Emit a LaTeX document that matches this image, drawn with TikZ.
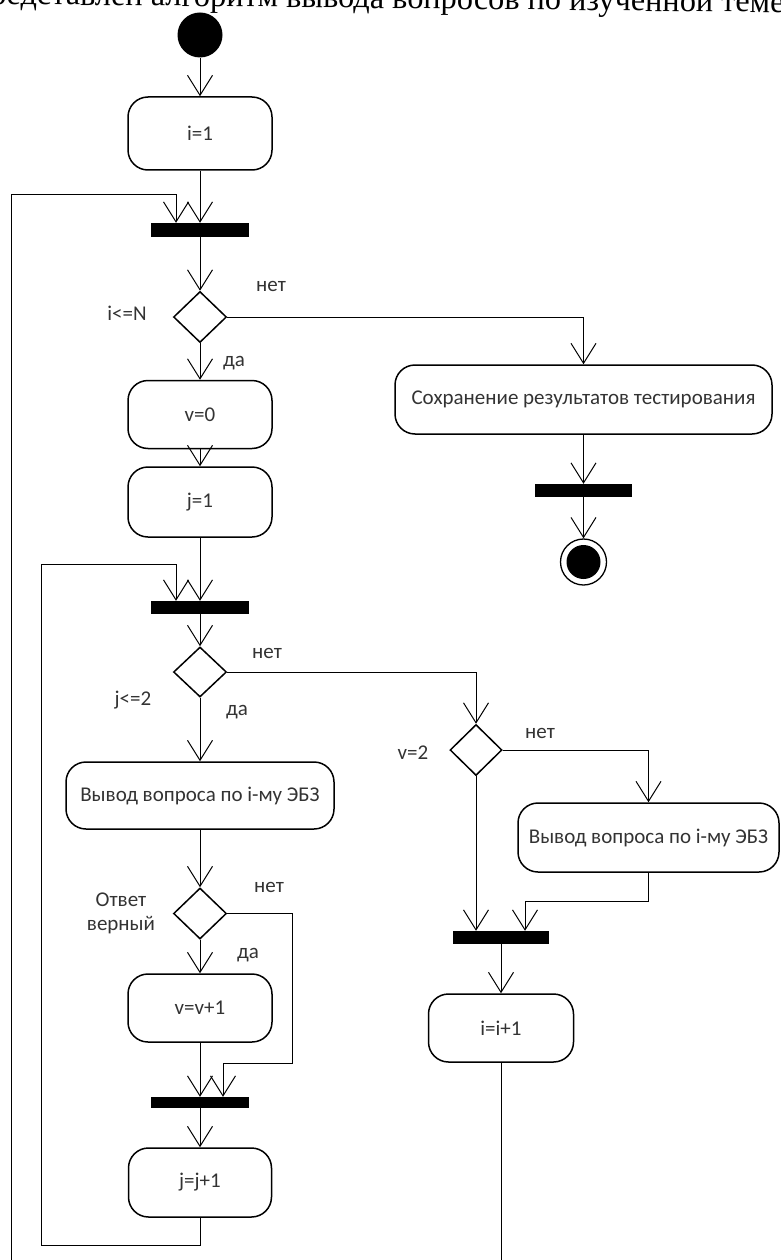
\documentclass[tikz,border=0pt]{standalone}
\usepackage{fontspec}
\setmainfont{Carlito}
\newfontfamily\pageserif{Liberation Serif}
\usetikzlibrary{arrows.meta,shapes.geometric}

\begin{document}
\begin{tikzpicture}[x=1pt, y=-1pt,
    every node/.style={font=\fontsize{21}{24}\selectfont, text=black!80},
    act/.style={draw=black, line width=1.5pt, rounded corners=20pt, minimum width=144pt, minimum height=68pt, inner sep=0pt},
    bar/.style={fill=black, inner sep=0pt, minimum width=98pt, minimum height=13pt},
    choice/.style={draw=black, diamond, line width=1.5pt, minimum width=53pt, minimum height=51pt, inner sep=0pt},
    flow/.style={line width=1pt, -{Straight Barb[length=20pt, width=25pt]}},
    edge/.style={line width=1pt}]
    \useasboundingbox (0, 0) rectangle (781, 1260);
    \clip (0, 0) rectangle (781, 1260);

    % text line of the page above the figure
    \node[font=\pageserif\fontsize{32.3}{33}\selectfont, text=black, anchor=base east, rotate=-0.6] (pagetext) at (788, 12.5) {представлен алгоритм вывода вопросов по изученной теме};

    % main column
    \node[circle, fill=black, minimum size=45pt, inner sep=0pt] (start) at (200, 35) {};
    \node[act, minimum height=73pt] (initI) at (200, 133.5) {i=1};
    \node[bar, minimum height=14pt] (joinI) at (200, 230) {};
    \node[choice] (testI) at (200, 317) {};
    \node[act] (initV) at (200, 414.5) {v=0};
    \node[act, minimum height=70pt] (initJ) at (200, 502) {j=1};
    \node[bar] (joinJ) at (200, 607.5) {};
    \node[choice, minimum height=50pt] (testJ) at (200, 672) {};
    \node[act, minimum width=268pt, minimum height=67pt] (askQ) at (200, 795.5) {Вывод вопроса по i-му ЭБЗ};
    \node[choice] (testA) at (200, 913.5) {};
    \node[act] (incV) at (200, 1008) {v=v+1};
    \node[bar, minimum height=11pt] (joinA) at (200, 1102.5) {};
    \node[act, minimum width=143pt, minimum height=69pt] (incJ) at (200, 1182.5) {j=j+1};

    % right side
    \node[act, minimum width=377pt, minimum height=69pt] (save) at (583.5, 399.5) {Сохранение результатов тестирования};
    \node[bar, minimum width=97pt] (joinS) at (583.5, 490.5) {};
    \node[circle, draw=black, line width=1.3pt, minimum size=46pt, inner sep=0pt] (stop) at (583.5, 562) {};
    \node[circle, fill=black, minimum size=34pt, inner sep=0pt] (stopdot) at (stop) {};
    \node[choice, minimum width=52pt] (testV) at (476, 750) {};
    \node[act, minimum width=261pt, minimum height=69pt] (askR) at (648.5, 837.5) {Вывод вопроса по i-му ЭБЗ};
    \node[bar, minimum width=96pt] (joinV) at (501, 937.5) {};
    \node[act, minimum width=145pt] (incI) at (501, 1028) {i=i+1};

    % guard labels
    \node (noI) at (271, 286) {нет};
    \node (condI) at (127, 313) {i<=N};
    \node (yesI) at (234, 363) {да};
    \node (noJ) at (267, 653) {нет};
    \node (condJ) at (133, 700) {j<=2};
    \node (yesJ) at (237, 712) {да};
    \node (condV) at (413, 753) {v=2};
    \node (noV) at (540, 733) {нет};
    \node (noA) at (269, 887) {нет};
    \node[align=center] (condA) at (121, 913) {Ответ\\верный};
    \node (yesA) at (248, 955) {да};

    \coordinate (loopI) at (11, 1280);

    \draw[flow] (start) -- (initI);
    \draw[flow] (initI) -- (joinI);
    \draw[flow] (joinI) -- (testI);
    \draw[flow] (testI) -- (initV);
    \draw[flow] (initV) -- (initJ);
    \draw[flow] (initJ) -- (joinJ);
    \draw[flow] (joinJ) -- (testJ);
    \draw[flow] (testJ) -- (askQ);
    \draw[flow] (askQ) -- (testA);
    \draw[flow] (testA) -- (incV);
    \draw[flow] (incV) -- (joinA);
    \draw[flow] (joinA) -- (incJ);
    \draw[flow] (incJ.south) -- ++(0, 28) -| (41, 564) -| ([xshift=-24pt]joinJ.north);
    \draw[flow] (testA.east) -| (292, 1063) -| ([xshift=23pt]joinA.north);

    \draw[flow] (testI.east) -| (save.north);
    \draw[flow] (save) -- (joinS);
    \draw[flow] (joinS) -- (stop);

    \draw[flow] (testJ.east) -| (testV.north);
    \draw[flow] (testV.east) -| (askR.north);
    \draw[flow] (testV.south) -- (testV.south |- joinV.north);
    \draw[flow] (askR.south) -- ++(0, 29) -| ([xshift=24pt]joinV.north);
    \draw[flow] (joinV) -- (incI);
    \draw[flow] (incI.south) |- (loopI) -- (11, 195) -| ([xshift=-24pt]joinI.north);
  \end{tikzpicture}
\end{document}
